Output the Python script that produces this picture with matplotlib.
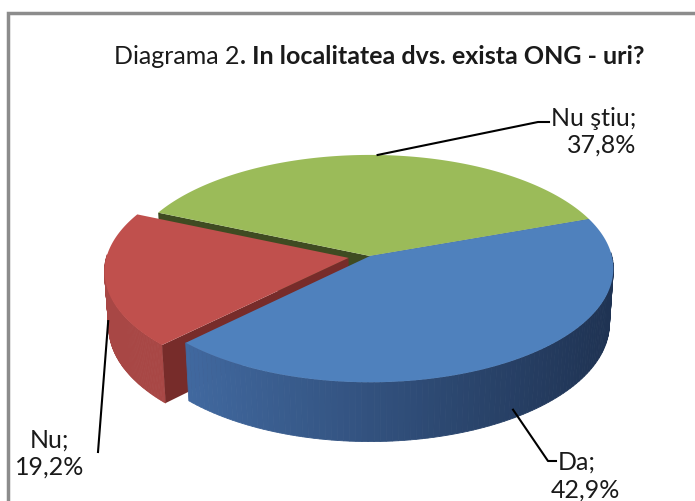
import numpy as np
import matplotlib.pyplot as plt
from matplotlib.patches import Polygon
from matplotlib.colors import to_rgb

# data
labels = ['Nu ştiu', 'Nu', 'Da']
values = [37.8, 19.2, 42.9]
value_text = ['37,8%', '19,2%', '42,9%']
explode = [0.0, 0.09, 0.0]

top_colors = ['#9BBB59', '#C0504D', '#4F81BD']
wall_light = ['#5f7a30', '#a84745', '#4169a0']
wall_dark = ['#3f4b22', '#8a3836', '#1f3353']
face_colors = ['#3f4b22', '#772c2a', '#2c4770']

# fake 3d projection
phi = np.radians(29.3)
D = 8.0
h = 0.26
S = 238.0
cx = 370.0
cy0 = 257.0 + S * h * np.cos(phi) * D / (D - h * np.sin(phi))


def proj(X, Y, Z):
    yv = Y * np.cos(phi) + Z * np.sin(phi)
    zv = D + Z * np.cos(phi) - Y * np.sin(phi)
    k = D / zv
    return cx + S * X * k, cy0 - S * yv * k


def lerp(c1, c2, t):
    a, b = np.array(to_rgb(c1)), np.array(to_rgb(c2))
    return tuple(a + (b - a) * min(max(t, 0), 1))


fig = plt.figure(figsize=(6.95, 5.02), dpi=100)
ax = fig.add_axes([0, 0, 1, 1])
ax.set_xlim(0, 695)
ax.set_ylim(502, 0)
ax.axis('off')

start = 20.0
spans = np.array(values) / sum(values) * 360.0
bounds = []
a = start
for s in spans:
    bounds.append((a, a + s))
    a += s

slices = []
for i, (t1, t2) in enumerate(bounds):
    mid = np.radians((t1 + t2) / 2)
    ox, oz = explode[i] * np.cos(mid), explode[i] * np.sin(mid)
    slices.append((np.radians(t1), np.radians(t2), ox, oz))


def rim(i, Y, n=120):
    t1, t2, ox, oz = slices[i]
    th = np.linspace(t1, t2, n)
    return proj(ox + np.cos(th), Y, oz + np.sin(th)), th


def radial_face(i, th):
    t1, t2, ox, oz = slices[i]
    pts = [proj(ox, h, oz), proj(ox + np.cos(th), h, oz + np.sin(th)),
           proj(ox + np.cos(th), 0, oz + np.sin(th)), proj(ox, 0, oz)]
    ax.add_patch(Polygon(pts, closed=True, fc=face_colors[i], ec='none'))


def wall(i):
    (xt, yt), th = rim(i, h)
    (xb, yb), _ = rim(i, 0)
    for j in range(len(th) - 1):
        if np.sin((th[j] + th[j + 1]) / 2) > 0.03:
            continue
        t = (xt[j] - 180) / 430
        col = lerp(wall_light[i], wall_dark[i], t)
        quad = [(xt[j], yt[j]), (xt[j + 1], yt[j + 1]), (xb[j + 1], yb[j + 1]), (xb[j], yb[j])]
        ax.add_patch(Polygon(quad, closed=True, fc=col, ec=col, lw=0.6))


def top(i):
    t1, t2, ox, oz = slices[i]
    (xt, yt), _ = rim(i, h)
    pts = [proj(ox, h, oz)] + list(zip(xt, yt))
    ax.add_patch(Polygon(pts, closed=True, fc=top_colors[i], ec='none'))


# green (back)
radial_face(0, slices[0][1])
radial_face(0, slices[0][0])
top(0)
# red (exploded)
wall(1)
radial_face(1, slices[1][1])
top(1)
# blue (front)
wall(2)
top(2)

# frame
ax.plot([8, 8, 695], [502, 14, 14], color='#8c8c8c', lw=2.5, solid_joinstyle='miter')

font = 'Lato'
tc = '#1a1a1a'

# title
ax.text(240, 57, 'Diagrama 2', ha='right', va='center', fontsize=18, family=font, color=tc)
ax.text(240, 57, '. In localitatea dvs. exista ONG - uri?', ha='left', va='center', fontsize=18,
        family=font, weight='bold', color=tc)

# leader lines and labels
lc = '#000000'
# Nu stiu
t1, t2, ox, oz = slices[0]
th = np.radians(88)
px, py = proj(ox + np.cos(th), h, oz + np.sin(th))
ax.plot([px, 538, 549], [py, 123, 123], color=lc, lw=1.5)
ax.text(594, 118, labels[0] + ';', ha='center', va='center', fontsize=18, family=font, color=tc)
ax.text(602, 145, value_text[0], ha='center', va='center', fontsize=18, family=font, color=tc)

# Nu
t1, t2, ox, oz = slices[1]
th = np.radians(188)
px, py = proj(ox + np.cos(th), h * 0.15, oz + np.sin(th))
ax.plot([px, 98], [py, 453], color=lc, lw=1.5)
ax.text(50, 440, labels[1] + ';', ha='center', va='center', fontsize=18, family=font, color=tc)
ax.text(50, 467, value_text[1], ha='center', va='center', fontsize=18, family=font, color=tc)

# Da
t1, t2, ox, oz = slices[2]
th = np.radians(303)
px, py = proj(ox + np.cos(th), h * 0.15, oz + np.sin(th))
ax.plot([px, 548, 556], [py, 462, 462], color=lc, lw=1.5)
ax.text(577, 462, labels[2] + ';', ha='center', va='center', fontsize=18, family=font, color=tc)
ax.text(585, 490, value_text[2], ha='center', va='center', fontsize=18, family=font, color=tc)

fig.savefig('out.png', dpi=100)
